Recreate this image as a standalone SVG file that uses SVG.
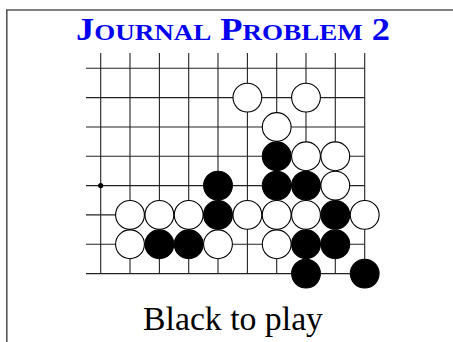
<svg xmlns="http://www.w3.org/2000/svg" xmlns:xlink="http://www.w3.org/1999/xlink" width="453" height="342" viewBox="0 0 453 342">
<style>
.frame{fill:none;stroke:#555;stroke-width:1.6}
.grid line{stroke:#222;stroke-width:1.1}
.edge{stroke:#000;stroke-width:2.2}
.w{fill:#fff;stroke:#000;stroke-width:1.1}
.b{fill:#000;stroke:#000;stroke-width:1.1}
.title{font-family:"Liberation Serif",serif;font-weight:bold;fill:#0000f0}
.caption{font-family:"Liberation Serif",serif;font-size:33px;fill:#000}
</style>
<defs>
<circle id="ws" r="14.4" class="w"/>
<circle id="bs" r="14.4" class="b"/>
</defs>
<rect width="453" height="342" fill="#fff"/>
<path class="frame" d="M6.8 342 V10 H453"/>
<text id="title" class="title" x="233" y="39.5" text-anchor="middle" textLength="314" lengthAdjust="spacingAndGlyphs"><tspan font-size="31">J</tspan><tspan font-size="23">OURNAL</tspan><tspan font-size="31"> P</tspan><tspan font-size="23">ROBLEM</tspan><tspan font-size="31"> 2</tspan></text>
<g id="board" class="grid">
<line x1="100.7" y1="53" x2="100.7" y2="273.6"/>
<line x1="130.0" y1="53" x2="130.0" y2="273.6"/>
<line x1="159.4" y1="53" x2="159.4" y2="273.6"/>
<line x1="188.7" y1="53" x2="188.7" y2="273.6"/>
<line x1="218.0" y1="53" x2="218.0" y2="273.6"/>
<line x1="247.4" y1="53" x2="247.4" y2="273.6"/>
<line x1="276.7" y1="53" x2="276.7" y2="273.6"/>
<line x1="306.0" y1="53" x2="306.0" y2="273.6"/>
<line x1="335.3" y1="53" x2="335.3" y2="273.6"/>
<line x1="86" y1="68.3" x2="364.7" y2="68.3"/>
<line x1="86" y1="97.6" x2="364.7" y2="97.6"/>
<line x1="86" y1="127.0" x2="364.7" y2="127.0"/>
<line x1="86" y1="156.3" x2="364.7" y2="156.3"/>
<line x1="86" y1="185.6" x2="364.7" y2="185.6"/>
<line x1="86" y1="214.9" x2="364.7" y2="214.9"/>
<line x1="86" y1="244.3" x2="364.7" y2="244.3"/>
<line class="edge" x1="364.7" y1="53" x2="364.7" y2="274.7"/>
<line class="edge" x1="86" y1="273.6" x2="365.8" y2="273.6"/>
<circle id="star" cx="100.7" cy="185.6" r="2.6" fill="#000"/>
</g>
<g id="stones">
<use id="w-5-1" xlink:href="#ws" x="247.4" y="97.6"/>
<use id="w-7-1" xlink:href="#ws" x="306.0" y="97.6"/>
<use id="w-6-2" xlink:href="#ws" x="276.7" y="127.0"/>
<use id="b-6-3" xlink:href="#bs" x="276.7" y="156.3"/>
<use id="w-7-3" xlink:href="#ws" x="306.0" y="156.3"/>
<use id="w-8-3" xlink:href="#ws" x="335.3" y="156.3"/>
<use id="b-4-4" xlink:href="#bs" x="218.0" y="185.6"/>
<use id="b-6-4" xlink:href="#bs" x="276.7" y="185.6"/>
<use id="b-7-4" xlink:href="#bs" x="306.0" y="185.6"/>
<use id="w-8-4" xlink:href="#ws" x="335.3" y="185.6"/>
<use id="w-1-5" xlink:href="#ws" x="130.0" y="214.9"/>
<use id="w-2-5" xlink:href="#ws" x="159.4" y="214.9"/>
<use id="w-3-5" xlink:href="#ws" x="188.7" y="214.9"/>
<use id="b-4-5" xlink:href="#bs" x="218.0" y="214.9"/>
<use id="w-5-5" xlink:href="#ws" x="247.4" y="214.9"/>
<use id="w-6-5" xlink:href="#ws" x="276.7" y="214.9"/>
<use id="w-7-5" xlink:href="#ws" x="306.0" y="214.9"/>
<use id="b-8-5" xlink:href="#bs" x="335.3" y="214.9"/>
<use id="w-9-5" xlink:href="#ws" x="364.7" y="214.9"/>
<use id="w-1-6" xlink:href="#ws" x="130.0" y="244.3"/>
<use id="b-2-6" xlink:href="#bs" x="159.4" y="244.3"/>
<use id="b-3-6" xlink:href="#bs" x="188.7" y="244.3"/>
<use id="w-4-6" xlink:href="#ws" x="218.0" y="244.3"/>
<use id="w-6-6" xlink:href="#ws" x="276.7" y="244.3"/>
<use id="b-7-6" xlink:href="#bs" x="306.0" y="244.3"/>
<use id="b-8-6" xlink:href="#bs" x="335.3" y="244.3"/>
<use id="b-7-7" xlink:href="#bs" x="306.0" y="273.6"/>
<use id="b-9-7" xlink:href="#bs" x="364.7" y="273.6"/>
</g>
<text id="caption" class="caption" x="233" y="330" text-anchor="middle" textLength="180" lengthAdjust="spacingAndGlyphs">Black to play</text>
</svg>
